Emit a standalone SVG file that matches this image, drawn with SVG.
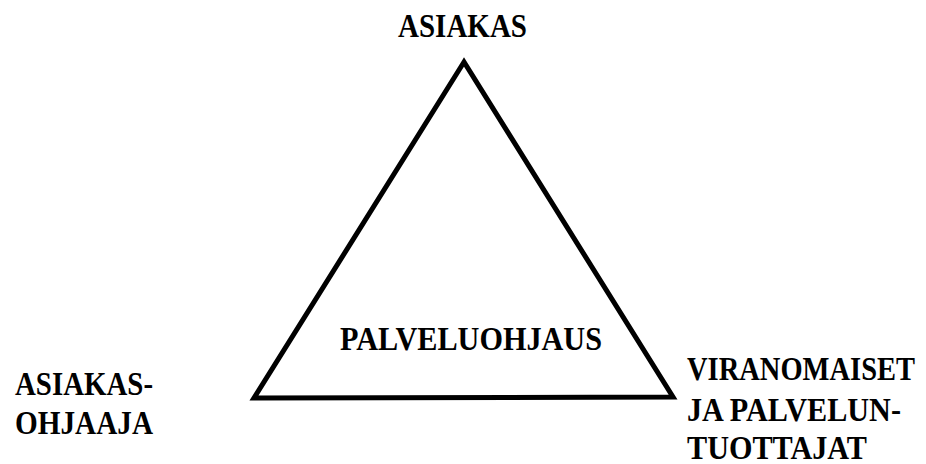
<svg xmlns="http://www.w3.org/2000/svg" width="926" height="464" viewBox="0 0 926 464">
  <style>
    .tri { fill: none; stroke: #000; stroke-width: 5; stroke-linejoin: miter; }
    .lbl { font-family: "Liberation Serif", "Times New Roman", serif; font-weight: bold; font-size: 33px; fill: #000; }
  </style>
  <rect width="926" height="464" fill="#fff"/>
  <g id="connectors">
    <polygon class="tri" points="464,62 254,398 673,397"/>
  </g>
  <g id="node-asiakas">
    <text class="lbl" x="398" y="37" textLength="129" lengthAdjust="spacingAndGlyphs">ASIAKAS</text>
  </g>
  <g id="node-palveluohjaus">
    <text class="lbl" x="340" y="350" textLength="262" lengthAdjust="spacingAndGlyphs">PALVELUOHJAUS</text>
  </g>
  <g id="node-asiakasohjaaja">
    <text class="lbl" x="15" y="395" textLength="138" lengthAdjust="spacingAndGlyphs">ASIAKAS-</text>
    <text class="lbl" x="15" y="434" textLength="138" lengthAdjust="spacingAndGlyphs">OHJAAJA</text>
  </g>
  <g id="node-viranomaiset">
    <text class="lbl" x="687" y="380" textLength="228" lengthAdjust="spacingAndGlyphs">VIRANOMAISET</text>
    <text class="lbl" x="687" y="421" textLength="214" lengthAdjust="spacingAndGlyphs">JA PALVELUN-</text>
    <text class="lbl" x="687" y="459" textLength="180" lengthAdjust="spacingAndGlyphs">TUOTTAJAT</text>
  </g>
</svg>
